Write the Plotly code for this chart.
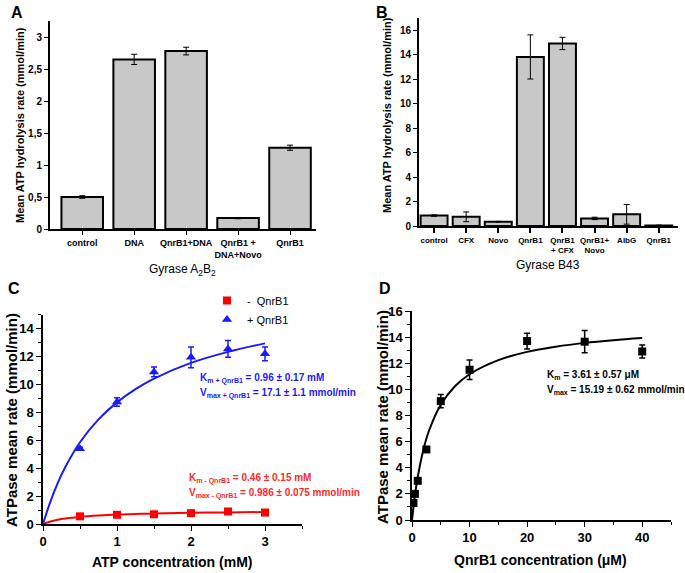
import plotly.graph_objects as go

# ---------------- Data ----------------
# Panel A
a_cats = ["control", "DNA", "QnrB1+DNA", "QnrB1 +<br>DNA+Novo", "QnrB1"]
a_vals = [0.50, 2.65, 2.78, 0.17, 1.27]
a_errs = [0.02, 0.08, 0.06, 0.01, 0.04]
a_ticks = [0, 0.5, 1, 1.5, 2, 2.5, 3]
a_ticklabels = ["0", "0,5", "1", "1,5", "2", "2,5", "3"]

# Panel B
b_labels = ["control", "CFX", "Novo", "QnrB1", "QnrB1<br>+ CFX", "QnrB1+<br>Novo", "AlbG", "QnrB1"]
b_vals = [0.85, 0.75, 0.35, 13.8, 14.9, 0.62, 0.95, 0.05]
b_errs = [0.06, 0.40, 0.03, 1.8, 0.50, 0.10, 0.80, 0.02]

# Panel C
c_atp = [0.5, 1.0, 1.5, 2.0, 2.5, 3.0]
c_minus = [0.55, 0.66, 0.70, 0.78, 0.90, 0.82]
c_minus_err = [0.10, 0.08, 0.08, 0.10, 0.10, 0.08]
c_plus = [5.40, 8.75, 10.90, 11.95, 12.55, 12.20]
c_plus_err = [0.10, 0.30, 0.35, 0.75, 0.60, 0.50]
c_fit_x = [0, 0.1, 0.2, 0.3, 0.5, 0.75, 1.0, 1.25, 1.5, 2.0, 2.5, 3.0]
c_fit_plus = [0, 1.61, 2.95, 4.07, 5.86, 7.50, 8.72, 9.67, 10.43, 11.55, 12.34, 12.95]
c_fit_minus = [0, 0.18, 0.30, 0.39, 0.51, 0.61, 0.68, 0.72, 0.76, 0.80, 0.83, 0.86]

# Panel D
d_conc = [0.25, 0.5, 1.0, 2.5, 5, 10, 20, 30, 40]
d_rate = [1.3, 2.0, 3.0, 5.4, 9.1, 11.5, 13.7, 13.65, 12.9]
d_err = [0.10, 0.10, 0.10, 0.15, 0.50, 0.75, 0.60, 0.85, 0.50]
d_fit_x = [0, 0.25, 0.5, 1, 2, 3, 5, 7.5, 10, 15, 20, 25, 30, 35, 40]
d_fit_y = [0, 0.98, 1.85, 3.30, 5.42, 6.89, 8.82, 10.26, 11.16, 12.24, 12.87, 13.27, 13.56, 13.77, 13.93]

FONT = "Arial, Liberation Sans, sans-serif"
BAR_FILL = "#c8c8c8"

fig = go.Figure()

# Panel A bars
fig.add_trace(go.Bar(
    x=list(range(len(a_cats))), y=a_vals, width=0.8,
    marker=dict(color=BAR_FILL, line=dict(color="black", width=2)),
    error_y=dict(type="data", array=a_errs, color="black", thickness=1, width=3),
    xaxis="x", yaxis="y", showlegend=False))

# Panel B bars
fig.add_trace(go.Bar(
    x=list(range(len(b_labels))), y=b_vals, width=0.84,
    marker=dict(color=BAR_FILL, line=dict(color="black", width=2)),
    error_y=dict(type="data", array=b_errs, color="black", thickness=1, width=3),
    xaxis="x2", yaxis="y2", showlegend=False))

# Panel C
RED = "#ff0000"
BLUE = "#1a1aff"
fig.add_trace(go.Scatter(x=c_fit_x, y=c_fit_minus, mode="lines", line=dict(color=RED, width=2, shape="spline"),
                         xaxis="x3", yaxis="y3", showlegend=False))
fig.add_trace(go.Scatter(x=c_fit_x, y=c_fit_plus, mode="lines", line=dict(color=BLUE, width=2, shape="spline"),
                         xaxis="x3", yaxis="y3", showlegend=False))
fig.add_trace(go.Scatter(x=c_atp, y=c_minus, mode="markers", name="-  QnrB1",
                         marker=dict(symbol="square", size=8, color=RED),
                         error_y=dict(type="data", array=c_minus_err, color=RED, thickness=1.5, width=3),
                         xaxis="x3", yaxis="y3"))
fig.add_trace(go.Scatter(x=c_atp, y=c_plus, mode="markers", name="+ QnrB1",
                         marker=dict(symbol="triangle-up", size=9, color=BLUE),
                         error_y=dict(type="data", array=c_plus_err, color=BLUE, thickness=1.5, width=3),
                         xaxis="x3", yaxis="y3"))

# Panel D
fig.add_trace(go.Scatter(x=d_fit_x, y=d_fit_y, mode="lines", line=dict(color="black", width=2, shape="spline"),
                         xaxis="x4", yaxis="y4", showlegend=False))
fig.add_trace(go.Scatter(x=d_conc, y=d_rate, mode="markers",
                         marker=dict(symbol="square", size=8, color="black"),
                         error_y=dict(type="data", array=d_err, color="black", thickness=1.5, width=3),
                         xaxis="x4", yaxis="y4", showlegend=False))

W, H = 685, 573
def px(x):
    return x / W
def py(y):
    return 1 - y / H

common = dict(showgrid=False, zeroline=False, showline=True, linecolor="black", ticks="outside",
              tickcolor="black", automargin=False)

layout = dict(
    width=W, height=H, margin=dict(l=0, r=0, t=0, b=0, autoexpand=False),
    paper_bgcolor="white", plot_bgcolor="white",
    font=dict(family=FONT, color="black"),
    legend=dict(x=px(207), y=py(286), xanchor="left", yanchor="top", bgcolor="rgba(0,0,0,0)",
                font=dict(size=11), tracegroupgap=0, itemwidth=30),
    showlegend=True,
)

# A axes
layout["xaxis"] = dict(**common, domain=[px(50), px(316)], range=[-0.62, 4.5], anchor="y",
                       tickvals=list(range(len(a_cats))), ticktext=a_cats, linewidth=2, ticklen=4,
                       tickangle=0, tickfont=dict(size=9, weight="bold"))
layout["yaxis"] = dict(**common, domain=[py(229), py(21)], range=[0, 3.25], anchor="x",
                       tickvals=a_ticks, ticktext=a_ticklabels, linewidth=2, ticklen=4,
                       tickfont=dict(size=10, weight="bold"))
# B axes
layout["xaxis2"] = dict(**common, domain=[px(419), px(678)], range=[-0.47, 7.6], anchor="y2",
                        tickvals=list(range(len(b_labels))), ticktext=b_labels, linewidth=2, ticklen=5,
                        tickangle=0, tickwidth=1.5, tickfont=dict(size=8, weight="bold"))
layout["yaxis2"] = dict(**common, domain=[py(226), py(17.75)], range=[0, 17], anchor="x2",
                        tickvals=[0, 2, 4, 6, 8, 10, 12, 14, 16], linewidth=2, ticklen=4,
                        tickfont=dict(size=10, weight="bold"))
# C axes
layout["xaxis3"] = dict(**common, domain=[px(43), px(302)], range=[0, 3.5], anchor="y3",
                        tickvals=[0, 1, 2, 3], linewidth=1.5, ticklen=5,
                        minor=dict(dtick=0.5, ticks="outside", ticklen=3, tickcolor="black"),
                        tickfont=dict(size=13, weight="bold"))
layout["yaxis3"] = dict(**common, domain=[py(524), py(314.8)], range=[0, 15], anchor="x3",
                        tickvals=[0, 2, 4, 6, 8, 10, 12, 14], linewidth=1.5, ticklen=5,
                        minor=dict(dtick=1, ticks="outside", ticklen=3, tickcolor="black"),
                        tickfont=dict(size=13, weight="bold"))
# D axes
layout["xaxis4"] = dict(**common, domain=[px(412), px(671)], range=[0, 45], anchor="y4",
                        tickvals=[0, 10, 20, 30, 40], linewidth=1.5, ticklen=5,
                        minor=dict(dtick=5, ticks="outside", ticklen=3, tickcolor="black"),
                        tickfont=dict(size=13, weight="bold"))
layout["yaxis4"] = dict(**common, domain=[py(520), py(311)], range=[0, 16], anchor="x4",
                        tickvals=[0, 2, 4, 6, 8, 10, 12, 14, 16], linewidth=1.5, ticklen=5,
                        minor=dict(dtick=1, ticks="outside", ticklen=3, tickcolor="black"),
                        tickfont=dict(size=13, weight="bold"))

fig.update_layout(**layout)

def ann(x, y, text, size, color="black", angle=0, xanchor="center", yanchor="middle", bold=True):
    fig.add_annotation(x=px(x), y=py(y), xref="paper", yref="paper", text=text, showarrow=False,
                       textangle=angle, xanchor=xanchor, yanchor=yanchor,
                       font=dict(size=size, color=color, family=FONT, weight="bold" if bold else "normal"))

# Panel letters
ann(17, 12, "A", 16)
ann(382, 12, "B", 16)
ann(14, 288, "C", 16)
ann(385, 288, "D", 16)

# Axis titles
ann(20, 125, "Mean ATP hydrolysis rate (mmol/min)", 11, angle=-90)
ann(183, 270, "Gyrase A<sub>2</sub>B<sub>2</sub>", 12, bold=False)
ann(387, 115, "Mean ATP hydrolysis rate (mmol/min)", 11, angle=-90)
ann(548, 265, "Gyrase B43", 12, bold=False)
ann(11, 420, "ATPase mean rate (mmol/min)", 15, angle=-90)
ann(172, 562, "ATP concentration (mM)", 14)
ann(382, 417, "ATPase mean rate (mmol/min)", 15, angle=-90)
ann(540, 560, "QnrB1 concentration (μM)", 14)

# Fit parameter text
ann(198, 378, "K<sub>m + QnrB1</sub> = 0.96 ± 0.17 mM", 10, color=BLUE, xanchor="left")
ann(198, 393, "V<sub>max + QnrB1</sub> = 17.1 ± 1.1 mmol/min", 10, color=BLUE, xanchor="left")
ann(187, 478, "K<sub>m - QnrB1</sub> = 0.46 ± 0.15 mM", 10, color="#ff2a2a", xanchor="left")
ann(187, 493, "V<sub>max - QnrB1</sub> = 0.986 ± 0.075 mmol/min", 10, color="#ff2a2a", xanchor="left")
ann(545, 375, "K<sub>m</sub> = 3.61 ± 0.57 μM", 10, xanchor="left")
ann(545, 390, "V<sub>max</sub> = 15.19 ± 0.62 mmol/min", 10, xanchor="left")

fig.write_html("out.html", config={"displayModeBar": False},
               post_script="document.body.style.margin='0';document.body.style.overflow='hidden';")
